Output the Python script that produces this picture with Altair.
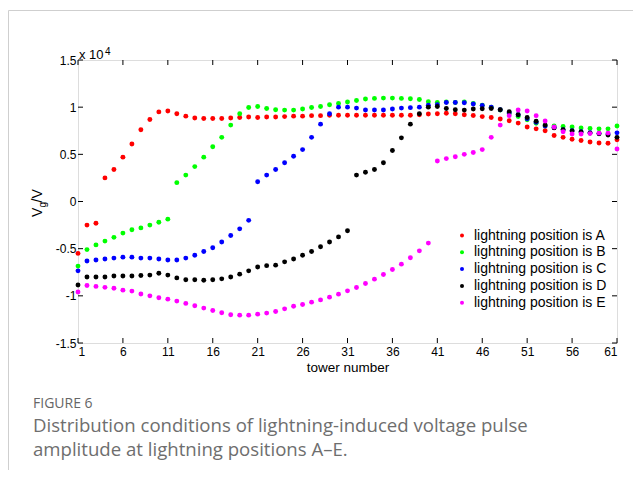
import altair as alt
import pandas as pd

towers = list(range(1, 62))
series_names = [
    "lightning position is A",
    "lightning position is B",
    "lightning position is C",
    "lightning position is D",
    "lightning position is E",
]
colors = ["#ff0000", "#00ff00", "#0000ff", "#000000", "#ff00ff"]

# values in units of 1e4 V
vals_a = [-0.55, -0.25, -0.23, 0.25, 0.34, 0.47, 0.61, 0.76, 0.87, 0.95,
          0.96, 0.93, 0.905, 0.885, 0.88, 0.88, 0.88, 0.885, 0.89, 0.895,
          0.89, 0.895, 0.895, 0.90, 0.905, 0.905, 0.91, 0.91, 0.915, 0.915,
          0.915, 0.915, 0.915, 0.915, 0.915, 0.915, 0.915, 0.915, 0.92, 0.927,
          0.93, 0.935, 0.93, 0.92, 0.912, 0.90, 0.89, 0.874, 0.856, 0.831,
          0.79, 0.77, 0.75, 0.70, 0.68, 0.66, 0.647, 0.63, 0.62, 0.617, 0.654]
vals_b = [-0.685, -0.51, -0.46, -0.42, -0.38, -0.335, -0.30, -0.28, -0.25, -0.22,
          -0.187, 0.20, 0.28, 0.37, 0.47, 0.58, 0.68, 0.81, 0.93, 0.997,
          1.007, 0.986, 0.972, 0.969, 0.969, 0.98, 0.997, 1.007, 1.025, 1.04,
          1.054, 1.071, 1.086, 1.093, 1.096, 1.096, 1.093, 1.089, 1.082, 1.057,
          1.05, 1.054, 1.05, 1.054, 1.04, 1.02, 1.00, 0.97, 0.93, 0.90,
          0.866, 0.83, 0.80, 0.80, 0.795, 0.79, 0.78, 0.775, 0.77, 0.77, 0.80]
vals_c = [-0.735, -0.63, -0.62, -0.61, -0.60, -0.59, -0.59, -0.60, -0.60, -0.61,
          -0.62, -0.62, -0.60, -0.57, -0.53, -0.49, -0.43, -0.36, -0.29, -0.20,
          0.21, 0.28, 0.34, 0.41, 0.48, 0.55, 0.68, 0.82, 0.93, 1.00,
          1.00, 0.99, 0.97, 0.97, 0.97, 0.98, 0.99, 0.995, 1.00, 1.02,
          1.025, 1.05, 1.05, 1.047, 1.033, 1.018, 1.00, 0.972, 0.94, 0.92,
          0.877, 0.84, 0.80, 0.785, 0.76, 0.75, 0.74, 0.73, 0.72, 0.715, 0.728]
vals_d = [-0.885, -0.80, -0.80, -0.80, -0.79, -0.79, -0.79, -0.785, -0.78, -0.76,
          -0.78, -0.81, -0.83, -0.83, -0.835, -0.83, -0.82, -0.80, -0.77, -0.735,
          -0.695, -0.68, -0.675, -0.64, -0.61, -0.57, -0.53, -0.48, -0.43, -0.375,
          -0.31, 0.28, 0.31, 0.34, 0.41, 0.54, 0.675, 0.82, 0.93, 1.00,
          1.007, 0.986, 0.972, 0.969, 0.98, 0.983, 0.986, 0.972, 0.951, 0.919,
          0.89, 0.85, 0.81, 0.78, 0.76, 0.747, 0.736, 0.725, 0.718, 0.704, 0.68]
vals_e = [-0.96, -0.89, -0.90, -0.91, -0.92, -0.94, -0.95, -0.98, -1.00, -1.02,
          -1.035, -1.056, -1.08, -1.105, -1.13, -1.155, -1.18, -1.20, -1.205, -1.205,
          -1.194, -1.183, -1.166, -1.138, -1.11, -1.092, -1.067, -1.043, -1.014, -0.982,
          -0.947, -0.912, -0.87, -0.823, -0.774, -0.721, -0.664, -0.597, -0.523, -0.441,
          0.43, 0.455, 0.474, 0.50, 0.52, 0.55, 0.68, 0.81, 0.91, 0.97,
          0.96, 0.91, 0.853, 0.79, 0.74, 0.715, 0.715, 0.72, 0.725, 0.725, 0.556]

x_ticks = list(range(1, 62, 5))
y_ticks = [-1.5, -1, -0.5, 0, 0.5, 1, 1.5]

x_title = "tower number"
y_title_parts = ["V", "g", "/V"]
exp_parts = ["x 10", "4"]
caption_head = "FIGURE 6"
caption_lines = ["Distribution conditions of lightning-induced voltage pulse",
                 "amplitude at lightning positions A\u2013E."]

rows = []
for name, vals in zip(series_names, [vals_a, vals_b, vals_c, vals_d, vals_e]):
    for t, v in zip(towers, vals):
        rows.append({"tower": t, "value": v, "series": name})
df = pd.DataFrame(rows)

W, H = 539, 283
FONT = "Liberation Sans"
xs = alt.Scale(domain=[1, 61], nice=False, zero=False)
ys = alt.Scale(domain=[-1.5, 1.5], nice=False, zero=False)

one = pd.DataFrame({"k": [0]})

border = alt.Chart(one).mark_rect(fill=None, stroke="#cfcfcf", strokeWidth=1).encode(
    x=alt.value(-69.5), x2=alt.value(700), y=alt.value(-49.5), y2=alt.value(520))

points = alt.Chart(df).mark_circle(size=24, opacity=1).encode(
    x=alt.X("tower:Q", scale=xs,
            axis=alt.Axis(values=x_ticks, ticks=False, domain=False, grid=False,
                          labelFontSize=12, labelFont=FONT, labelColor="#000",
                          labelPadding=3, title=x_title, titleFont=FONT,
                          titleFontSize=13.5, titleFontWeight="normal",
                          titleColor="#000", titlePadding=3)),
    y=alt.Y("value:Q", scale=ys,
            axis=alt.Axis(values=y_ticks, ticks=False, domain=False, grid=False,
                          labelExpr="'' + datum.value", labelFontSize=12,
                          labelFont=FONT, labelColor="#000", labelPadding=2,
                          title=None)),
    color=alt.Color("series:N", scale=alt.Scale(domain=series_names, range=colors),
                    legend=alt.Legend(orient="none", legendX=377, legendY=168.5,
                                      title=None, padding=0, symbolType="circle",
                                      symbolSize=16, symbolStrokeWidth=0,
                                      labelFont=FONT, labelFontSize=14,
                                      labelColor="#000", labelOffset=5,
                                      rowPadding=2.8, symbolOffset=0,
                                      labelLimit=300)),
)

xt = pd.DataFrame({"t": x_ticks})
yt = pd.DataFrame({"v": y_ticks})
tick_bottom = alt.Chart(xt).mark_rule(color="#000", strokeWidth=1).encode(
    x=alt.X("t:Q", scale=xs), y=alt.value(H), y2=alt.value(H - 5))
tick_top = alt.Chart(xt).mark_rule(color="#000", strokeWidth=1).encode(
    x=alt.X("t:Q", scale=xs), y=alt.value(0), y2=alt.value(5))
tick_left = alt.Chart(yt).mark_rule(color="#000", strokeWidth=1).encode(
    y=alt.Y("v:Q", scale=ys), x=alt.value(0), x2=alt.value(5))
tick_right = alt.Chart(yt).mark_rule(color="#000", strokeWidth=1).encode(
    y=alt.Y("v:Q", scale=ys), x=alt.value(W), x2=alt.value(W - 5))

def txt(s, x, y, size, angle=0, color="#000", font=FONT, align="left"):
    return alt.Chart(pd.DataFrame({"s": [s]})).mark_text(
        align=align, baseline="alphabetic", fontSize=size, font=font,
        color=color, angle=angle).encode(
        x=alt.value(x), y=alt.value(y), text="s:N")

ylab = [
    txt(y_title_parts[0], -36, 157, 14, angle=270),
    txt(y_title_parts[1], -32.5, 147.5, 10, angle=270),
    txt(y_title_parts[2], -36, 142.5, 14, angle=270),
]
expo = [
    txt(exp_parts[0], 1, -1, 13),
    txt(exp_parts[1], 27, -5.5, 10),
]
CAP = "Open Sans"
cap = [
    txt(caption_head, -45, 347.5, 14, color="#666666", font=CAP),
    txt(caption_lines[0], -45, 372, 18.6, color="#6e6e6e", font=CAP),
    txt(caption_lines[1], -45, 396, 18.6, color="#6e6e6e", font=CAP),
]

chart = alt.layer(border, points, tick_bottom, tick_top, tick_left, tick_right,
                  *ylab, *expo, *cap).properties(
    width=W, height=H,
    autosize=alt.AutoSizeParams(type="none"),
    padding={"left": 70, "top": 52, "right": 16, "bottom": 127},
).configure_view(stroke="#000", strokeWidth=1).configure(background="white")

chart.save("out.html", embed_options={"renderer": "svg", "actions": False})
